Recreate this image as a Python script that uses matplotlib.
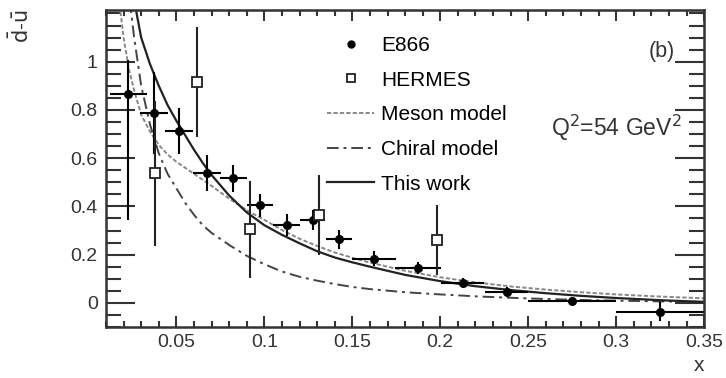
import matplotlib
matplotlib.use("Agg")
import matplotlib.pyplot as plt
from matplotlib.ticker import MultipleLocator
from matplotlib.lines import Line2D

plt.rcParams['font.family'] = ['Liberation Sans', 'DejaVu Sans']

# E866 data
e866_x = [0.0227, 0.0374, 0.0517, 0.0672, 0.0823, 0.0975, 0.1127, 0.1274,
          0.1424, 0.1623, 0.1875, 0.2127, 0.2377, 0.275, 0.325]
e866_y = [0.865, 0.788, 0.713, 0.54, 0.516, 0.405, 0.323, 0.344,
          0.264, 0.182, 0.144, 0.081, 0.047, 0.008, -0.036]
e866_xerr = [0.0105, 0.008, 0.008, 0.008, 0.0076, 0.0076, 0.0076, 0.007,
             0.0076, 0.0125, 0.013, 0.0123, 0.0123, 0.025, 0.025]
e866_yerr_lo = [0.52, 0.17, 0.097, 0.075, 0.057, 0.048, 0.045, 0.04,
                0.04, 0.031, 0.025, 0.02, 0.02, 0.015, 0.038]
e866_yerr_hi = [0.14, 0.17, 0.097, 0.075, 0.057, 0.048, 0.045, 0.04,
                0.04, 0.031, 0.025, 0.02, 0.02, 0.015, 0.038]

# HERMES data
hermes_x = [0.0378, 0.0619, 0.0918, 0.1312, 0.1983]
hermes_y = [0.537, 0.916, 0.305, 0.364, 0.261]
hermes_yerr = [0.30, 0.228, 0.20, 0.167, 0.145]

# model curves
curve_x = [0.026, 0.0274, 0.030, 0.035, 0.040, 0.045, 0.050, 0.055, 0.060,
           0.065, 0.070, 0.080, 0.090, 0.100, 0.110, 0.120, 0.130, 0.140,
           0.150, 0.160, 0.180, 0.200, 0.220, 0.240, 0.260, 0.280, 0.300,
           0.325, 0.350]
this_work = [1.28, 1.20, 1.10, 0.99, 0.90, 0.82, 0.755, 0.695, 0.635,
             0.58, 0.53, 0.445, 0.375, 0.322, 0.282, 0.247, 0.214, 0.188,
             0.168, 0.150, 0.116, 0.090, 0.069, 0.053, 0.040, 0.029, 0.020,
             0.011, 0.004]

chiral_x = [0.0236, 0.026, 0.030, 0.035, 0.040, 0.045, 0.050, 0.055, 0.060,
            0.065, 0.070, 0.080, 0.090, 0.100, 0.110, 0.120, 0.130, 0.140,
            0.150, 0.160, 0.180, 0.200, 0.220, 0.240, 0.260, 0.280, 0.300,
            0.325, 0.350]
chiral = [1.25, 1.10, 0.90, 0.74, 0.62, 0.535, 0.475, 0.415, 0.365,
          0.322, 0.29, 0.24, 0.195, 0.16, 0.13, 0.108, 0.092, 0.078,
          0.066, 0.057, 0.044, 0.035, 0.027, 0.021, 0.016, 0.012, 0.009,
          0.006, 0.004]

meson_x = [0.016, 0.018, 0.020, 0.023, 0.026, 0.030, 0.035, 0.040, 0.045,
           0.050, 0.060, 0.070, 0.080, 0.090, 0.100, 0.110, 0.120, 0.130,
           0.140, 0.150, 0.160, 0.180, 0.200, 0.220, 0.240, 0.260, 0.280,
           0.300, 0.325, 0.350]
meson = [1.40, 1.22, 1.10, 0.97, 0.88, 0.78, 0.71, 0.655, 0.615,
         0.585, 0.535, 0.485, 0.432, 0.384, 0.344, 0.302, 0.266, 0.236,
         0.209, 0.187, 0.167, 0.133, 0.106, 0.085, 0.068, 0.055, 0.044,
         0.035, 0.026, 0.019]

fig = plt.figure(figsize=(7.26, 3.78), dpi=100)
ax = fig.add_axes([0.146, 0.135, 0.824, 0.839])

meson_style = dict(color='#888888', lw=1.4, ls=(0, (2.2, 1.1)))
chiral_style = dict(color='#444444', lw=1.4, ls=(0, (6, 2.5, 1.5, 2.5)))
work_style = dict(color='#222222', lw=1.6, ls='-')

ax.plot(meson_x, meson, **meson_style)
ax.plot(chiral_x, chiral, **chiral_style)
ax.plot(curve_x, this_work, **work_style)

ax.errorbar(e866_x, e866_y, xerr=e866_xerr, yerr=[e866_yerr_lo, e866_yerr_hi],
            fmt='o', color='black', ms=5.5, elinewidth=1.5, capsize=0)
ax.errorbar(hermes_x, hermes_y, yerr=hermes_yerr, fmt='s', color='#222222',
            mfc='white', mec='#222222', mew=1.3, ms=6.5, elinewidth=1.5, capsize=0)

ax.set_xlim(0.01, 0.35)
ax.set_ylim(-0.1, 1.215)
ax.set_xticks([0.05, 0.1, 0.15, 0.2, 0.25, 0.3, 0.35])
ax.set_xticklabels(['0.05', '0.1', '0.15', '0.2', '0.25', '0.3', '0.35'])
ax.set_yticks([0, 0.2, 0.4, 0.6, 0.8, 1.0])
ax.set_yticklabels(['0', '0.2', '0.4', '0.6', '0.8', '1'])
ax.xaxis.set_minor_locator(MultipleLocator(0.01))
ax.yaxis.set_minor_locator(MultipleLocator(0.05))
ax.tick_params(axis='both', which='both', direction='in', top=True, right=True,
               labelsize=14, colors='#333333', width=1.5)
ax.tick_params(axis='x', which='major', length=8, pad=5)
ax.tick_params(axis='x', which='minor', length=4)
ax.tick_params(axis='y', which='major', length=21, pad=6)
ax.tick_params(axis='y', which='minor', length=11)
for sp in ax.spines.values():
    sp.set_linewidth(1.8)
    sp.set_color('#333333')

ax.set_xlabel('x', loc='right', fontsize=15, color='#333333')
ax.set_ylabel(r'$\bar{\rm d}$-$\bar{\rm u}$', loc='top', fontsize=15, color='#333333')
ax.yaxis.set_label_coords(-0.122, 1.0)

handles = [
    Line2D([], [], ls='none', marker='o', color='black', ms=5),
    Line2D([], [], ls='none', marker='s', mfc='white', mec='#222222', mew=1.3, ms=5.5),
    Line2D([], [], **meson_style),
    Line2D([], [], **chiral_style),
    Line2D([], [], **work_style),
]
labels = ['E866', 'HERMES', 'Meson model', 'Chiral model', 'This work']
ax.legend(handles, labels, loc='upper left', bbox_to_anchor=(0.3696, 0.917),
          frameon=False, fontsize=15, handlelength=2.26, labelspacing=0.75,
          handletextpad=0.35, borderpad=0, borderaxespad=0)

ax.text(0.951, 0.868, '(b)', transform=ax.transAxes, ha='right', va='center',
        fontsize=15.5, color='#333333')
ax.text(0.962, 0.628, r'Q$^2$=54 GeV$^2$', transform=ax.transAxes, ha='right',
        va='center', fontsize=16.5, color='#333333')

fig.savefig('out.png', dpi=100)
